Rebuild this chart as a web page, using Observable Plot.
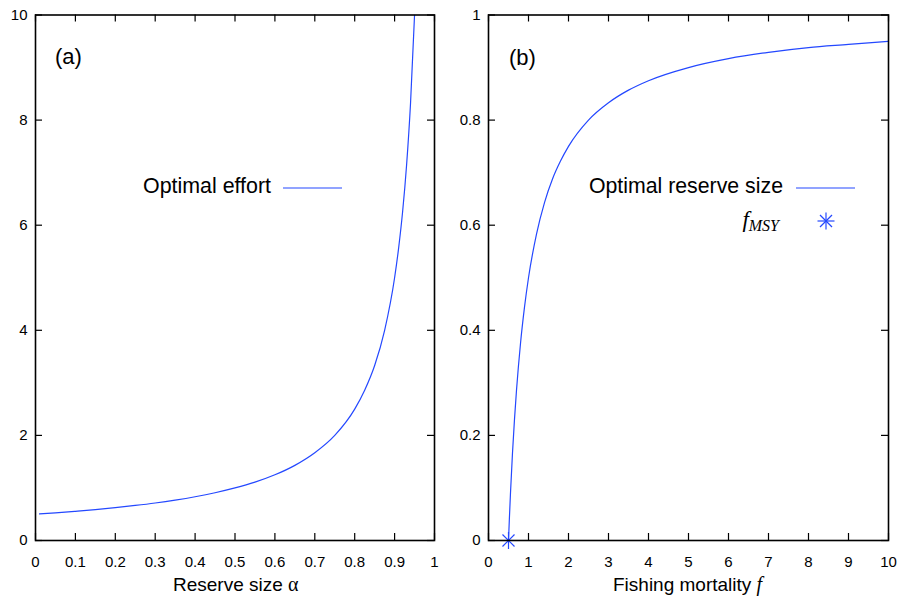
<!DOCTYPE html>
<html>
<head>
<meta charset="utf-8">
<script src="https://cdn.jsdelivr.net/npm/d3@7"></script>
<script src="https://cdn.jsdelivr.net/npm/@observablehq/plot@0.6"></script>
<style>
  html, body { margin: 0; padding: 0; background: #fff; }
  #wrap { position: relative; width: 898px; height: 596px; font-family: "Liberation Sans", Arial, sans-serif; color: #000; }
  .panel { position: absolute; top: 0; }
  .ov { position: absolute; white-space: nowrap; line-height: 1; }
  .ov svg { display: block; }
  .serif { font-family: "Liberation Serif", "Times New Roman", serif; }
  .it { font-style: italic; }
</style>
</head>
<body>
<div id="wrap">
  <div id="pa" class="panel" style="left:0"></div>
  <div id="pb" class="panel" style="left:449px"></div>
</div>
<script>
// ---- data ----
// Panel (a): reserve size alpha vs optimal effort
const alphaA = [0.01, 0.05, 0.1, 0.15, 0.2, 0.25, 0.3, 0.35, 0.4, 0.45, 0.5, 0.55, 0.6, 0.65, 0.7, 0.75, 0.8, 0.825, 0.85, 0.875, 0.9, 0.91, 0.92, 0.93, 0.94, 0.95];
const effortA = [0.505, 0.526, 0.556, 0.588, 0.625, 0.667, 0.714, 0.769, 0.833, 0.909, 1.0, 1.11, 1.25, 1.43, 1.67, 2.0, 2.5, 2.86, 3.33, 4.0, 5.0, 5.56, 6.25, 7.14, 8.33, 10.0];
// Panel (b): fishing mortality f vs optimal reserve size
const fB = [0.5, 0.52, 0.55, 0.6, 0.65, 0.7, 0.8, 0.9, 1.0, 1.2, 1.4, 1.6, 1.8, 2.0, 2.5, 3.0, 3.5, 4.0, 5.0, 6.0, 7.0, 8.0, 9.0, 10.0];
const reserveB = [0.0, 0.038, 0.091, 0.167, 0.231, 0.286, 0.375, 0.444, 0.5, 0.583, 0.643, 0.688, 0.722, 0.75, 0.8, 0.833, 0.857, 0.875, 0.9, 0.917, 0.929, 0.938, 0.944, 0.95];
// f_MSY point
const fMSY = [0.5];
const fMSYReserve = [0];
// tick values
const xTicksA = [0, 0.1, 0.2, 0.3, 0.4, 0.5, 0.6, 0.7, 0.8, 0.9, 1];
const yTicksA = [0, 2, 4, 6, 8, 10];
const xTicksB = [0, 1, 2, 3, 4, 5, 6, 7, 8, 9, 10];
const yTicksB = [0, 0.2, 0.4, 0.6, 0.8, 1];
// text
const panelLabels = ["(a)", "(b)"];
const legendA = "Optimal effort";
const legendB = "Optimal reserve size";

const BLUE = "#2448ff";
const W = 449, H = 596, MT = 14.5, MB = 56;
const TICK = 7;

const star8 = {
  draw(ctx, size) {
    const r = Math.sqrt(size / Math.PI);
    const d = r * Math.SQRT1_2;
    ctx.moveTo(0, -r); ctx.lineTo(0, r);
    ctx.moveTo(-r, 0); ctx.lineTo(r, 0);
    ctx.moveTo(-d, -d); ctx.lineTo(d, d);
    ctx.moveTo(-d, d); ctx.lineTo(d, -d);
  }
};

function panel({ml, mr, xDomain, yDomain, xTicks, yTicks, marks}) {
  const pw = W - ml - mr, ph = H - MT - MB;
  return Plot.plot({
    width: W, height: H,
    marginLeft: ml, marginRight: mr, marginTop: MT, marginBottom: MB,
    style: {fontFamily: "Liberation Sans, Arial, sans-serif", fontSize: "15px", color: "#000", background: "white", overflow: "visible"},
    x: {domain: xDomain, ticks: xTicks},
    y: {domain: yDomain, ticks: yTicks},
    marks: [
      // inward ticks on all sides
      Plot.tickX(xTicks, {x: d => d, insetTop: ph - TICK, stroke: "#000", strokeWidth: 1.2}),
      Plot.tickX(xTicks, {x: d => d, insetBottom: ph - TICK, stroke: "#000", strokeWidth: 1.2}),
      Plot.tickY(yTicks, {y: d => d, insetRight: pw - TICK, stroke: "#000", strokeWidth: 1.2}),
      Plot.tickY(yTicks, {y: d => d, insetLeft: pw - TICK, stroke: "#000", strokeWidth: 1.2}),
      Plot.axisX(xTicks, {tickSize: 0, tickPadding: 16, tickFormat: d => String(d), label: null, fontSize: 15}),
      Plot.axisY(yTicks, {tickSize: 0, tickPadding: 8, tickFormat: d => String(d), label: null, fontSize: 15}),
      ...marks,
      Plot.frame({stroke: "#000", strokeWidth: 1.6})
    ]
  });
}

const idxA = d3.range(alphaA.length);
const idxB = d3.range(fB.length);

document.getElementById("pa").appendChild(panel({
  ml: 35, mr: 15,
  xDomain: [0, 1], yDomain: [0, 10],
  xTicks: xTicksA, yTicks: yTicksA,
  marks: [
    Plot.line(idxA, {x: i => alphaA[i], y: i => effortA[i], stroke: BLUE, strokeWidth: 1.2, curve: "monotone-x", clip: true})
  ]
}));

document.getElementById("pb").appendChild(panel({
  ml: 39, mr: 10,
  xDomain: [0, 10], yDomain: [0, 1],
  xTicks: xTicksB, yTicks: yTicksB,
  marks: [
    Plot.line(idxB, {x: i => fB[i], y: i => reserveB[i], stroke: BLUE, strokeWidth: 1.2, curve: "monotone-x", clip: true}),
    Plot.dot(d3.range(fMSY.length), {x: i => fMSY[i], y: i => fMSYReserve[i], symbol: star8, r: 8.5, stroke: BLUE, fill: "none", strokeWidth: 1.2})
  ]
}));

// overlays: panel labels, legends, axis titles
const wrap = document.getElementById("wrap");
function ov(html, style) {
  const d = document.createElement("div");
  d.className = "ov";
  d.innerHTML = html;
  Object.assign(d.style, style);
  wrap.appendChild(d);
  return d;
}
ov(panelLabels[0], {left: "55px", top: "46px", fontSize: "22px"});
ov(panelLabels[1], {left: "509px", top: "47px", fontSize: "22px"});

// legend (a)
ov(legendA, {right: (898 - 271) + "px", top: "176px", fontSize: "21.4px"});
ov(`<svg width="60" height="4"><line x1="0" y1="2" x2="59" y2="2" stroke="${BLUE}" stroke-width="1.2"/></svg>`, {left: "283px", top: "186px"});

// legend (b)
ov(legendB, {right: (898 - 783) + "px", top: "176px", fontSize: "21.3px"});
ov(`<svg width="62" height="4"><line x1="0" y1="2" x2="59" y2="2" stroke="${BLUE}" stroke-width="1.2"/></svg>`, {left: "796px", top: "186px"});
ov(`<span class="serif it" style="font-size:23px">f</span><span class="serif it" style="font-size:16px;position:relative;top:4px">MSY</span>`, {right: (898 - 779) + "px", top: "208px"});
ov(`<svg width="20" height="20"><g stroke="${BLUE}" stroke-width="1.2"><line x1="10" y1="1.5" x2="10" y2="18.5"/><line x1="1.5" y1="10" x2="18.5" y2="10"/><line x1="4" y1="4" x2="16" y2="16"/><line x1="4" y1="16" x2="16" y2="4"/></g></svg>`, {left: "816px", top: "211px"});

// axis titles
ov(`Reserve size <span class="serif" style="font-size:20px">α</span>`, {left: "173px", top: "574px", fontSize: "19px"});
ov(`Fishing mortality <span class="serif it" style="font-size:20px">f</span>`, {left: "613px", top: "574px", fontSize: "19px"});
</script>
</body>
</html>
